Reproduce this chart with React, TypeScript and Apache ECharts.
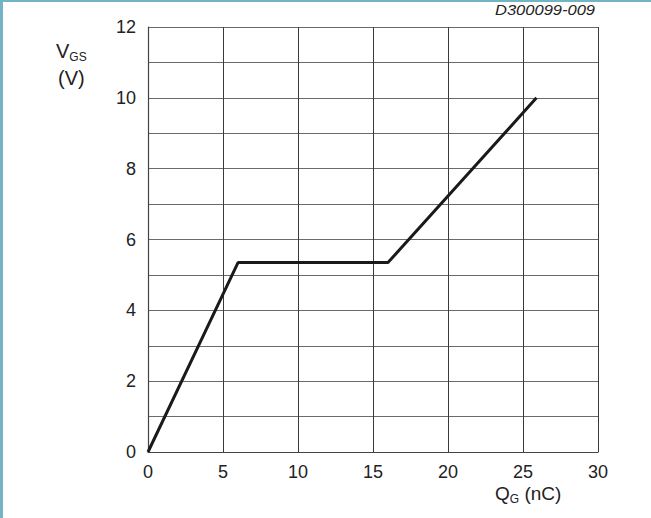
import React, { useEffect, useRef } from "react";
import * as echarts from "echarts";

const qg = [0, 6, 16, 25.9];
const vgs = [0, 5.35, 5.35, 10];
const xTicks = [0, 5, 10, 15, 20, 25, 30];
const yLabelled = [0, 2, 4, 6, 8, 10, 12];

export default function App() {
  const ref = useRef<HTMLDivElement>(null);
  useEffect(() => {
    if (!ref.current) return;
    const chart = echarts.init(ref.current, null, { renderer: "svg" });
    const font = "'Liberation Sans', Arial, sans-serif";
    chart.setOption({
      animation: false,
      backgroundColor: "#ffffff",
      grid: { left: 148, top: 27, width: 450, height: 425, containLabel: false },
      xAxis: {
        type: "value",
        min: xTicks[0],
        max: xTicks[xTicks.length - 1],
        interval: 5,
        axisLine: { show: true, lineStyle: { color: "#444", width: 1.2 } },
        axisTick: { show: false },
        axisLabel: { color: "#222", fontSize: 18, fontFamily: font, margin: 11 },
        splitLine: { show: true, lineStyle: { color: "#3a3a3a", width: 1 } },
      },
      yAxis: {
        type: "value",
        min: 0,
        max: 12,
        interval: 1,
        axisLine: { show: true, lineStyle: { color: "#444", width: 1.2 } },
        axisTick: { show: false },
        axisLabel: {
          color: "#222",
          fontSize: 18,
          fontFamily: font,
          margin: 12,
          formatter: (v: number) => (yLabelled.indexOf(v) >= 0 ? String(v) : ""),
        },
        splitLine: { show: true, lineStyle: { color: "#6a6a6a", width: 1 } },
      },
      series: [
        {
          type: "line",
          data: qg.map((x, i) => [x, vgs[i]]),
          symbol: "none",
          lineStyle: { color: "#1a1a1a", width: 3 },
          z: 5,
        },
      ],
      graphic: [
        { type: "rect", shape: { x: 0, y: 0, width: 651, height: 2 }, style: { fill: "#72b4c6" } },
        { type: "rect", shape: { x: 0, y: 0, width: 3, height: 518 }, style: { fill: "#72b4c6" } },
        {
          type: "text",
          x: 495,
          y: 3,
          scaleX: 1.18,
          style: { text: "D300099-009", fontSize: 14, fontStyle: "italic", fontFamily: font, fill: "#222" },
        },
        {
          type: "text",
          left: 56,
          top: 41,
          style: {
            text: "{a|V}{b|GS}",
            fontFamily: font,
            fill: "#222",
            rich: {
              a: { fontSize: 20, fontFamily: font, fill: "#222" },
              b: { fontSize: 12, fontFamily: font, fill: "#222", padding: [12, 0, 0, 0] },
            },
          },
        },
        {
          type: "text",
          left: 58,
          top: 68,
          style: { text: "(V)", fontSize: 20, fontFamily: font, fill: "#222" },
        },
        {
          type: "text",
          left: 495,
          top: 484,
          style: {
            text: "{a|Q}{b|G}{a| (nC)}",
            fontFamily: font,
            fill: "#222",
            rich: {
              a: { fontSize: 19, fontFamily: font, fill: "#222" },
              b: { fontSize: 12, fontFamily: font, fill: "#222", padding: [11, 0, 0, 0] },
            },
          },
        },
      ],
    });
    return () => chart.dispose();
  }, []);
  return (
    <div
      ref={ref}
      style={{ position: "fixed", left: 0, top: 0, width: 651, height: 518 }}
    />
  );
}
